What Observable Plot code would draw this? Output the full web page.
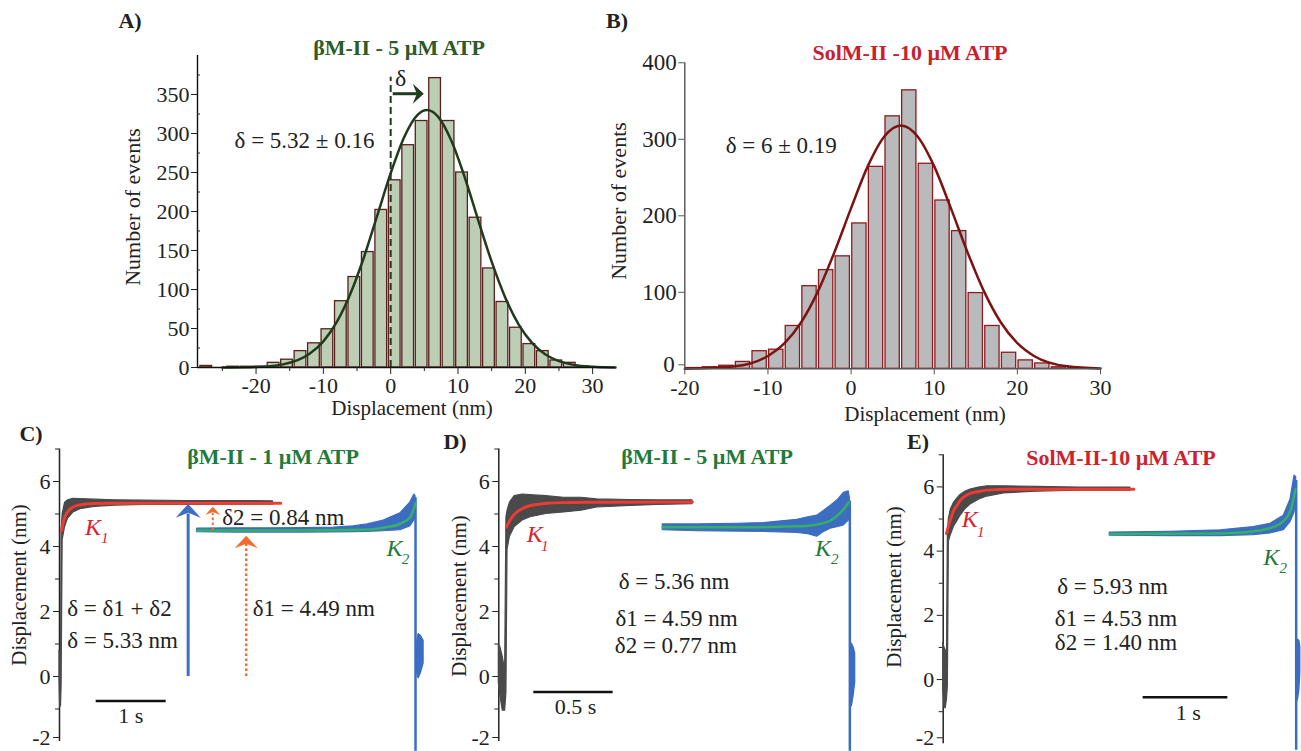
<!DOCTYPE html>
<html><head><meta charset="utf-8">
<script src="https://cdn.jsdelivr.net/npm/d3@7"></script>
<script src="https://cdn.jsdelivr.net/npm/@observablehq/plot@0.6"></script>
<style>
body{margin:0;background:#fff;}
#fig{position:relative;width:1301px;height:751px;overflow:hidden;background:#fff;font-family:'Liberation Serif','Times New Roman',serif;color:#222;}
#fig svg{position:absolute;left:0;top:0;}
.lbl{position:absolute;white-space:nowrap;transform:translate(-50%,-50%);line-height:1;}
.rot{transform:translate(-50%,-50%) rotate(-90deg);}
.b{font-weight:bold;}
</style></head><body><div id="fig"></div>
<script>
// ---------- Panel A : histogram (βM-II, 5 µM ATP) ----------
const aBinCenters = [-27.4,-25.4,-23.4,-21.4,-19.4,-17.4,-15.4,-13.4,-11.4,-9.4,-7.4,-5.4,-3.4,-1.4,0.6,2.6,4.6,6.6,8.6,10.6,12.6,14.6,16.6,18.6,20.6,22.6,24.6,26.6,28.6];
const aCounts     = [2,0,1,1,1,6,10,21,31,49,85,116,148,202,240,285,316,371,316,250,192,127,84,51,30,21,9,6,1];
const aFitX = [-25,-20,-16,-12,-10,-8,-6,-4,-2,0,2,4,5.4,7,9,11,13,15,17,19,21,23,25,27,30,33.4];
const aFitY = [0.1,0.7,4,17.8,33.5,58.4,94.2,140.7,194.6,249.1,295.2,323.8,330,322,291,243.9,189,135.7,90.2,55.4,31.6,16.6,8.1,3.7,1.0,0.1];
const aYTicks = [0,50,100,150,200,250,300,350];
const aYMinor = [25,75,125,175,225,275,325,375];
const aXTicks = [-20,-10,0,10,20,30];
const aXMinor = [-25,-15,-5,5,15,25];

// ---------- Panel B : histogram (SolM-II, 10 µM ATP) ----------
const bBinCenters = [-19,-17,-15,-13,-11,-9,-7,-5,-3,-1,1,3,5,7,9,11,13,15,17,19,21,23,25,27];
const bCounts     = [1,2,4,9,23,25,56,108,129,147,190,264,330,364,268,220,180,99,56,21,11,7,2,1];
const bFitX = [-20,-14,-10,-8,-6,-4,-2,0,2,4,6,8,10,12,14,16,18,20,22,26,30];
const bFitY = [0.1,3.2,16.8,33.5,60.9,100.9,152.5,210,264.6,303.7,318,303.7,264.6,210,152.5,100.9,60.9,33.5,16.8,3.2,0.3];
const bYTicks = [100,200,300,400];
const bYZero = [0];
const bXTicks = [-20,-10,0,10,20,30];

// ---------- Trace panels: y ticks ----------
const trYTicks = [0,2,4,6];
const trYBottom = [-2];
const trYMinor = [-1,1,3,5,7];

// ---------- Panel C : βM-II 1 µM ATP ----------
const cGrayT  = [0,0.01,0.022,0.03,0.045,0.08,0.12,0.2,0.3,0.5,0.8,1.2,1.8,2.4,3.05];
const cGrayLo = [-0.1,-0.95,-0.9,-0.3,4.2,4.6,4.85,5.05,5.15,5.22,5.26,5.28,5.28,5.29,5.29];
const cGrayHi = [0.8,0.6,0.3,4.4,5.0,5.35,5.42,5.47,5.46,5.44,5.42,5.41,5.4,5.4,5.39];
const cRedT = [0.03,0.05,0.08,0.12,0.18,0.25,0.35,0.5,0.8,3.16];
const cRedV = [4.49,4.72,4.93,5.08,5.2,5.26,5.3,5.32,5.33,5.33];
const cBlueT  = [1.967,2.5,3.0,3.5,3.92,4.2,4.4,4.63,4.87,5.01,5.07,5.086];
const cBlueLo = [4.44,4.43,4.43,4.43,4.43,4.44,4.45,4.47,4.5,4.62,4.8,4.9];
const cBlueHi = [4.55,4.56,4.56,4.57,4.58,4.62,4.68,4.8,5.02,5.35,5.6,5.55];
const cGreenT = [1.967,3.0,3.92,4.4,4.63,4.87,5.01,5.086];
const cGreenV = [4.49,4.49,4.5,4.52,4.58,4.7,4.9,5.33];
const cBurstT = [5.1,5.13,5.16,5.2];
const cBurstLo = [0.2,-0.05,0.1,0.4];
const cBurstHi = [0.9,1.3,1.25,1.1];

// ---------- Panel D : βM-II 5 µM ATP ----------
const dGrayT  = [0,0.01,0.025,0.04,0.048,0.055,0.07,0.1,0.15,0.2,0.3,0.41,0.52,0.62,0.83,1.0,1.22];
const dGrayLo = [-0.2,-0.6,-1.05,-1.05,-0.5,3.9,4.3,4.6,4.8,4.9,5.0,5.05,5.1,5.2,5.25,5.28,5.3];
const dGrayHi = [1.0,0.9,0.6,0.2,4.9,5.1,5.35,5.55,5.6,5.58,5.55,5.5,5.5,5.45,5.43,5.42,5.42];
const dRedT = [0.048,0.07,0.1,0.15,0.2,0.3,0.4,0.6,1.22];
const dRedV = [4.6,4.8,5.0,5.17,5.26,5.33,5.35,5.36,5.37];
const dBlueT  = [1.033,1.25,1.5,1.67,1.88,1.95,2.006,2.05,2.09,2.14,2.174,2.205,2.212];
const dBlueLo = [4.5,4.47,4.46,4.45,4.42,4.38,4.3,4.45,4.55,4.6,4.65,4.8,4.9];
const dBlueHi = [4.68,4.68,4.7,4.72,4.82,4.9,4.95,5.1,5.25,5.45,5.65,5.7,5.5];
const dGreenT = [1.033,1.5,1.88,2.006,2.09,2.14,2.174,2.205];
const dGreenV = [4.59,4.59,4.62,4.68,4.8,4.98,5.15,5.36];
const dBurstT = [2.215,2.225,2.235,2.245];
const dBurstLo = [-0.95,-0.9,-0.6,-0.2];
const dBurstHi = [1.05,1.0,0.9,0.7];

// ---------- Panel E : SolM-II 10 µM ATP ----------
const eGrayT  = [0,0.015,0.03,0.045,0.055,0.067,0.09,0.126,0.17,0.204,0.26,0.322,0.42,0.52,0.72,1.1,1.6,2.21];
const eGrayLo = [-0.3,-0.85,-0.9,-0.6,-0.2,4.3,4.5,4.75,4.95,5.1,5.3,5.45,5.6,5.7,5.8,5.85,5.88,5.88];
const eGrayHi = [1.14,1.0,0.9,0.8,4.6,5.0,5.3,5.5,5.65,5.75,5.85,5.92,5.98,6.02,6.02,6.0,5.98,5.98];
const eRedT = [0.039,0.07,0.1,0.126,0.17,0.204,0.26,0.322,0.42,0.52,0.8,2.25];
const eRedV = [4.55,4.85,5.1,5.28,5.45,5.59,5.72,5.8,5.86,5.9,5.93,5.93];
const eBlueT  = [1.967,2.684,3.274,3.667,3.864,4.021,4.1,4.148,4.168];
const eBlueLo = [4.48,4.47,4.47,4.5,4.55,4.65,4.9,5.2,5.6];
const eBlueHi = [4.58,4.6,4.65,4.75,4.85,5.1,5.6,6.35,6.3];
const eGreenT = [1.967,3.274,3.667,3.864,4.021,4.1,4.16];
const eGreenV = [4.53,4.55,4.62,4.72,4.95,5.25,5.93];
const eBurstT = [4.175,4.19,4.205,4.215];
const eBurstLo = [-0.7,-0.6,-0.3,0.2];
const eBurstHi = [0.9,1.24,1.2,1.0];

// ---------- helpers ----------
const zipBand = (t, lo, hi) => t.map((d, i) => ({t: d, lo: lo[i], hi: hi[i]}));
const zipLine = (t, v) => t.map((d, i) => ({t: d, v: v[i]}));
const zipXY = (x, y) => x.map((d, i) => ({x: d, y: y[i]}));
const fmt = d => String(d);
const FONT = "'Liberation Serif','Times New Roman',serif";
const fig = document.getElementById("fig");

// filled "stealth" arrow head symbol (points up by default)
const stealth = {draw(ctx, size) {
  const r = Math.sqrt(size / Math.PI);
  ctx.moveTo(0, -0.55 * r); ctx.lineTo(r, 0.55 * r); ctx.lineTo(0, 0.15 * r); ctx.lineTo(-r, 0.55 * r); ctx.closePath();
}};

function addPlot(p) { fig.appendChild(p); }
function addLabel(text, x, y, size, opts = {}) {
  const d = document.createElement("div");
  d.className = "lbl" + (opts.rot ? " rot" : "") + (opts.bold ? " b" : "");
  d.style.left = x + "px"; d.style.top = y + "px"; d.style.fontSize = size + "px";
  if (opts.color) d.style.color = opts.color;
  d.textContent = text;
  fig.appendChild(d);
}

const baseStyle = (fs) => ({background: "transparent", fontFamily: FONT, fontSize: fs + "px", color: "#222", overflow: "visible"});

// ---------- Panel A ----------
const aBins = aBinCenters.map((c, i) => ({c, n: aCounts[i]}));
const aFit = zipXY(aFitX, aFitY);
addPlot(Plot.plot({
  width: 1301, height: 751, marginLeft: 197, marginRight: 686, marginTop: 55, marginBottom: 384,
  x: {domain: [-28.7, 33.4]}, y: {domain: [0, 400]},
  style: baseStyle(22),
  marks: [
    Plot.rectY(aBins, {x1: d => d.c - 0.87, x2: d => d.c + 0.87, y: "n", fill: "#bccfb4", stroke: "#5a1f1f", strokeWidth: 1.3}),
    Plot.ruleX([0], {y1: 0, y2: 372, stroke: "#1f3b1b", strokeWidth: 2, strokeDasharray: "7,4"}),
    Plot.line(aFit, {x: "x", y: "y", stroke: "#1f3b1b", strokeWidth: 2.5, curve: "monotone-x"}),
    Plot.ruleX([-28.7], {y1: 0, y2: 400, stroke: "#111", strokeWidth: 1.4}),
    Plot.ruleY([0], {stroke: "#111", strokeWidth: 1.4}),
    Plot.axisY({ticks: aYTicks, tickSize: 6, tickPadding: 2, tickFormat: fmt, label: null}),
    Plot.axisY({ticks: aYMinor, tickSize: -3, tickFormat: () => "", label: null}),
    Plot.axisX({ticks: aXTicks, tickSize: 7, tickPadding: 3, tickFormat: fmt, label: null}),
    Plot.axisX({ticks: aXMinor, tickSize: 4, tickFormat: () => "", label: null}),
    Plot.link([{x1: 0.3, x2: 3.9, y: 351}], {x1: "x1", x2: "x2", y1: "y", y2: "y", stroke: "#1f3b1b", strokeWidth: 3}),
    Plot.dot([{x: 4.1, y: 351}], {x: "x", y: "y", symbol: stealth, r: 10, rotate: 90, fill: "#1f3b1b", stroke: "none"}),
    Plot.text(["δ"], {x: 1.5, y: 371, fontSize: 24, fill: "#222"}),
    Plot.text(["δ = 5.32 ± 0.16"], {x: -12.8, y: 291, fontSize: 23, fill: "#222"})
  ]
}));

// ---------- Panel B ----------
const bBins = bBinCenters.map((c, i) => ({c, n: bCounts[i]}));
const bFit = zipXY(bFitX, bFitY);
addPlot(Plot.plot({
  width: 1301, height: 751, marginLeft: 684.3, marginRight: 201, marginTop: 62.3, marginBottom: 382.7,
  x: {domain: [-20, 30]}, y: {domain: [0, 400]},
  style: baseStyle(23),
  marks: [
    Plot.rectY(bBins, {x1: d => d.c - 0.86, x2: d => d.c + 0.86, y: "n", fill: "#b9babc", stroke: "#8e1b1f", strokeWidth: 1.3}),
    Plot.line(bFit, {x: "x", y: "y", stroke: "#7c1313", strokeWidth: 2.5, curve: "monotone-x"}),
    Plot.ruleX([-20], {y1: 0, y2: 400, stroke: "#555", strokeWidth: 1.4}),
    Plot.ruleY([0], {stroke: "#555", strokeWidth: 1.4}),
    Plot.axisY({ticks: bYTicks, tickSize: 6, tickPadding: 2, tickFormat: fmt, label: null, stroke: "#555"}),
    Plot.axisY({ticks: bYZero, tickSize: 6, tickPadding: 4, tickFormat: fmt, label: null, stroke: "#555", dy: -4}),
    Plot.axisX({ticks: bXTicks, tickSize: 6, tickPadding: 5, tickFormat: fmt, label: null, stroke: "#555", fontSize: 22}),
    Plot.text(["δ = 6 ± 0.19"], {x: -8.4, y: 292, fontSize: 23, fill: "#222"})
  ]
}));

// ---------- trace panel builder ----------
const GRAY = "#4a4a4a", BLUE = "#3b6dc1", RED = "#ee3b33", GREEN = "#36b062", KRED = "#d8242e", KGREEN = "#1f7a3c";
function tracePanel(c) {
  return Plot.plot({
    width: 1301, height: 751, marginLeft: c.ml, marginRight: c.mr, marginTop: c.mt, marginBottom: c.mb,
    x: {domain: [0, c.xmax], axis: null}, y: {domain: [-2, 7]},
    style: baseStyle(22),
    marks: [
      Plot.ruleX([0], {y1: -2, y2: 7, stroke: "#222", strokeWidth: 1.5}),
      Plot.axisY({ticks: trYTicks, tickSize: 6, tickPadding: 3, tickFormat: fmt, label: null}),
      Plot.axisY({ticks: trYBottom, tickSize: 6, tickPadding: 3, tickFormat: fmt, label: null, dy: c.bottomDy}),
      Plot.axisY({ticks: trYMinor, tickSize: 4, tickFormat: () => "", label: null}),
      Plot.areaY(c.gray, {x: "t", y1: "lo", y2: "hi", fill: GRAY, stroke: GRAY, strokeWidth: 1.2}),
      Plot.areaY(c.blue, {x: "t", y1: "lo", y2: "hi", fill: BLUE, stroke: BLUE, strokeWidth: 1.2}),
      Plot.ruleX([c.drop.t], {y1: c.drop.y1, y2: c.drop.y2, stroke: BLUE, strokeWidth: 2.5}),
      Plot.areaY(c.burst, {x: "t", y1: "lo", y2: "hi", fill: BLUE, stroke: BLUE, strokeWidth: 1.5}),
      Plot.line(c.red, {x: "t", y: "v", stroke: RED, strokeWidth: 3, curve: "monotone-x"}),
      Plot.line(c.green, {x: "t", y: "v", stroke: GREEN, strokeWidth: 2.5, curve: "monotone-x"}),
      ...(c.extra || []),
      Plot.ruleY([c.bar.v], {x1: c.bar.t1, x2: c.bar.t2, stroke: "#111", strokeWidth: 2.5}),
      Plot.text([c.bar.label], {x: c.bar.lt, y: c.bar.lv, fontSize: 22, fill: "#222"}),
      Plot.text(c.texts, {x: "t", y: "v", text: "s", textAnchor: "start", fontSize: 23, fill: "#222"}),
      Plot.text(c.k1, {x: "t", y: "v", text: () => "K", fontStyle: "italic", fontSize: 24, fill: KRED}),
      Plot.text(c.k1, {x: "st", y: "sv", text: () => "1", fontStyle: "italic", fontSize: 15, fill: KRED}),
      Plot.text(c.k2, {x: "t", y: "v", text: () => "K", fontStyle: "italic", fontSize: 24, fill: KGREEN}),
      Plot.text(c.k2, {x: "st", y: "sv", text: () => "2", fontStyle: "italic", fontSize: 15, fill: KGREEN})
    ]
  });
}

// ---------- Panel C ----------
const ORANGE = "#f26b2f";
addPlot(tracePanel({
  ml: 59, mr: 871, mt: 448.5, mb: 10, xmax: 5.3, bottomDy: -4,
  gray: zipBand(cGrayT, cGrayLo, cGrayHi), blue: zipBand(cBlueT, cBlueLo, cBlueHi),
  burst: zipBand(cBurstT, cBurstLo, cBurstHi),
  red: zipLine(cRedT, cRedV), green: zipLine(cGreenT, cGreenV),
  drop: {t: 5.086, y1: 5.5, y2: -2.3},
  bar: {t1: 0.524, t2: 1.524, v: -0.75, label: "1 s", lt: 1.02, lv: -1.2},
  texts: [
    {t: 2.324, v: 4.88, s: "δ2 = 0.84 nm"},
    {t: 2.761, v: 2.08, s: "δ1 = 4.49 nm"},
    {t: 0.11, v: 2.08, s: "δ = δ1 + δ2"},
    {t: 0.11, v: 1.1, s: "δ = 5.33 nm"}
  ],
  k1: [{t: 0.48, v: 4.58, st: 0.645, sv: 4.26}],
  k2: [{t: 4.786, v: 3.95, st: 4.943, sv: 3.62}],
  extra: [
    Plot.ruleX([1.838], {y1: 0, y2: 5.0, stroke: "#3f6fc3", strokeWidth: 3}),
    Plot.dot([{t: 1.838, v: 5.1}], {x: "t", y: "v", symbol: stealth, r: 12.5, fill: "#3f6fc3", stroke: "none"}),
    Plot.ruleX([2.667], {y1: 0, y2: 4.1, stroke: ORANGE, strokeWidth: 2.5, strokeDasharray: "2.5,2.5"}),
    Plot.dot([{t: 2.667, v: 4.14}], {x: "t", y: "v", symbol: stealth, r: 11.5, fill: ORANGE, stroke: "none"}),
    Plot.ruleX([2.19], {y1: 4.49, y2: 5.02, stroke: ORANGE, strokeWidth: 2, strokeDasharray: "2.5,2.5"}),
    Plot.dot([{t: 2.19, v: 5.1}], {x: "t", y: "v", symbol: stealth, r: 7.5, fill: ORANGE, stroke: "none"})
  ]
}));

// ---------- Panel D ----------
addPlot(tracePanel({
  ml: 498.3, mr: 437.7, mt: 448.5, mb: 10, xmax: 2.3, bottomDy: -4,
  gray: zipBand(dGrayT, dGrayLo, dGrayHi), blue: zipBand(dBlueT, dBlueLo, dBlueHi),
  burst: zipBand(dBurstT, dBurstLo, dBurstHi),
  red: zipLine(dRedT, dRedV), green: zipLine(dGreenT, dGreenV),
  drop: {t: 2.212, y1: 5.4, y2: -2.3},
  bar: {t1: 0.2205, t2: 0.7205, v: -0.48, label: "0.5 s", lt: 0.483, lv: -0.95},
  texts: [
    {t: 0.756, v: 2.92, s: "δ = 5.36 nm"},
    {t: 0.735, v: 1.77, s: "δ1 = 4.59 nm"},
    {t: 0.731, v: 0.95, s: "δ2 = 0.77 nm"}
  ],
  k1: [{t: 0.226, v: 4.36, st: 0.289, sv: 4.0}],
  k2: [{t: 2.043, v: 3.95, st: 2.117, sv: 3.62}]
}));

// ---------- Panel E ----------
addPlot(tracePanel({
  ml: 942.7, mr: 2.6, mt: 454.3, mb: 7.7, xmax: 4.2, bottomDy: -6,
  gray: zipBand(eGrayT, eGrayLo, eGrayHi), blue: zipBand(eBlueT, eBlueLo, eBlueHi),
  burst: zipBand(eBurstT, eBurstLo, eBurstHi),
  red: zipLine(eRedT, eRedV), green: zipLine(eGreenT, eGreenV),
  drop: {t: 4.168, y1: 6.2, y2: -2.2},
  bar: {t1: 2.361, t2: 3.361, v: -0.55, label: "1 s", lt: 2.893, lv: -1.03},
  texts: [
    {t: 1.346, v: 2.9, s: "δ = 5.93 nm"},
    {t: 1.318, v: 1.89, s: "δ1 = 4.53 nm"},
    {t: 1.318, v: 1.14, s: "δ2 = 1.40 nm"}
  ],
  k1: [{t: 0.313, v: 4.99, st: 0.444, sv: 4.6}],
  k2: [{t: 3.874, v: 3.8, st: 4.014, sv: 3.47}]
}));

// ---------- HTML labels: panel letters, titles, axis titles ----------
addLabel("A)", 130, 21, 22, {bold: true});
addLabel("B)", 617, 21, 22, {bold: true});
addLabel("C)", 31, 434, 22, {bold: true});
addLabel("D)", 455, 442, 22, {bold: true});
addLabel("E)", 918, 442, 22, {bold: true});
addLabel("βM-II - 5 µM ATP", 399, 48, 22, {bold: true, color: "#2d5a27"});
addLabel("SolM-II -10 µM ATP", 910, 53, 22, {bold: true, color: "#c8202e"});
addLabel("βM-II - 1 µM ATP", 273, 457, 22, {bold: true, color: "#1f7a3c"});
addLabel("βM-II - 5 µM ATP", 707, 457, 22, {bold: true, color: "#1f7a3c"});
addLabel("SolM-II-10 µM ATP", 1121, 458, 22, {bold: true, color: "#d0202e"});
addLabel("Number of events", 133, 207, 22, {rot: true});
addLabel("Number of events", 619, 201, 22, {rot: true});
addLabel("Displacement (nm)", 412, 408, 21);
addLabel("Displacement (nm)", 925, 414, 21);
addLabel("Displacement (nm)", 19, 585, 21, {rot: true});
addLabel("Displacement (nm)", 459, 596, 21, {rot: true});
addLabel("Displacement (nm)", 894, 587, 21, {rot: true});
</script></body></html>
